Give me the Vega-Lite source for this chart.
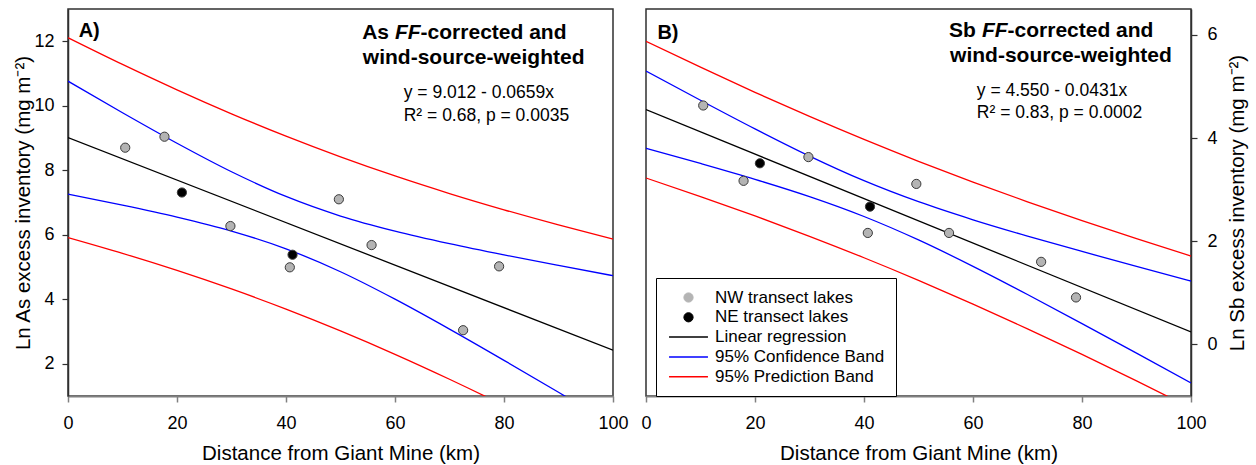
{
  "$schema": "https://vega.github.io/schema/vega-lite/v6.json",
  "padding": {"left": 13, "top": 8, "right": 0, "bottom": 0},
  "spacing": 33,
  "bounds": "flush",
  "resolve": {"scale": {"color": "independent"}, "legend": {"color": "independent"}},
  "config": {
    "font": "Liberation Sans",
    "view": {"stroke": "#303030", "strokeWidth": 1.5},
    "axis": {"grid": false, "labelFont": "Liberation Sans", "titleFont": "Liberation Sans", "labelFontSize": 18, "titleFontSize": 20.5, "titleFontWeight": "normal", "labelColor": "#000000", "titleColor": "#000000", "tickSize": 6},
    "axisX": {"domainColor": "#808080", "domainWidth": 2, "tickColor": "#808080", "tickWidth": 1.5, "labelPadding": 12, "titlePadding": 11, "labelFlush": false},
    "axisY": {"domainColor": "#303030", "domainWidth": 1.5, "tickColor": "#303030", "tickWidth": 1.2}
  },
  "datasets": {
    "asPts": [
      {"dist": 10.5, "val": 8.70, "series": "NW transect lakes"},
      {"dist": 17.7, "val": 9.04, "series": "NW transect lakes"},
      {"dist": 29.8, "val": 6.27, "series": "NW transect lakes"},
      {"dist": 40.7, "val": 4.99, "series": "NW transect lakes"},
      {"dist": 49.7, "val": 7.10, "series": "NW transect lakes"},
      {"dist": 55.7, "val": 5.68, "series": "NW transect lakes"},
      {"dist": 72.5, "val": 3.04, "series": "NW transect lakes"},
      {"dist": 79.1, "val": 5.02, "series": "NW transect lakes"},
      {"dist": 20.9, "val": 7.31, "series": "NE transect lakes"},
      {"dist": 41.2, "val": 5.38, "series": "NE transect lakes"}
    ],
    "asLines": [
      {"series": "Linear regression", "band": "fit", "dist": 0, "val": 9.012},
      {"series": "Linear regression", "band": "fit", "dist": 100, "val": 2.422},
      {"series": "95% Confidence Band", "band": "upper", "dist": 0, "val": 10.762},
      {"series": "95% Confidence Band", "band": "upper", "dist": 10, "val": 9.784},
      {"series": "95% Confidence Band", "band": "upper", "dist": 20, "val": 8.838},
      {"series": "95% Confidence Band", "band": "upper", "dist": 30, "val": 7.954},
      {"series": "95% Confidence Band", "band": "upper", "dist": 40, "val": 7.187},
      {"series": "95% Confidence Band", "band": "upper", "dist": 50, "val": 6.581},
      {"series": "95% Confidence Band", "band": "upper", "dist": 60, "val": 6.113},
      {"series": "95% Confidence Band", "band": "upper", "dist": 70, "val": 5.723},
      {"series": "95% Confidence Band", "band": "upper", "dist": 80, "val": 5.374},
      {"series": "95% Confidence Band", "band": "upper", "dist": 90, "val": 5.047},
      {"series": "95% Confidence Band", "band": "upper", "dist": 100, "val": 4.731},
      {"series": "95% Confidence Band", "band": "lower", "dist": 0, "val": 7.262},
      {"series": "95% Confidence Band", "band": "lower", "dist": 10, "val": 6.922},
      {"series": "95% Confidence Band", "band": "lower", "dist": 20, "val": 6.550},
      {"series": "95% Confidence Band", "band": "lower", "dist": 30, "val": 6.116},
      {"series": "95% Confidence Band", "band": "lower", "dist": 40, "val": 5.565},
      {"series": "95% Confidence Band", "band": "lower", "dist": 50, "val": 4.853},
      {"series": "95% Confidence Band", "band": "lower", "dist": 60, "val": 4.003},
      {"series": "95% Confidence Band", "band": "lower", "dist": 70, "val": 3.075},
      {"series": "95% Confidence Band", "band": "lower", "dist": 80, "val": 2.106},
      {"series": "95% Confidence Band", "band": "lower", "dist": 90, "val": 1.115},
      {"series": "95% Confidence Band", "band": "lower", "dist": 100, "val": 0.113},
      {"series": "95% Prediction Band", "band": "upper", "dist": 0, "val": 12.110},
      {"series": "95% Prediction Band", "band": "upper", "dist": 10, "val": 11.282},
      {"series": "95% Prediction Band", "band": "upper", "dist": 20, "val": 10.494},
      {"series": "95% Prediction Band", "band": "upper", "dist": 30, "val": 9.751},
      {"series": "95% Prediction Band", "band": "upper", "dist": 40, "val": 9.057},
      {"series": "95% Prediction Band", "band": "upper", "dist": 50, "val": 8.415},
      {"series": "95% Prediction Band", "band": "upper", "dist": 60, "val": 7.823},
      {"series": "95% Prediction Band", "band": "upper", "dist": 70, "val": 7.278},
      {"series": "95% Prediction Band", "band": "upper", "dist": 80, "val": 6.774},
      {"series": "95% Prediction Band", "band": "upper", "dist": 90, "val": 6.305},
      {"series": "95% Prediction Band", "band": "upper", "dist": 100, "val": 5.867},
      {"series": "95% Prediction Band", "band": "lower", "dist": 0, "val": 5.914},
      {"series": "95% Prediction Band", "band": "lower", "dist": 10, "val": 5.424},
      {"series": "95% Prediction Band", "band": "lower", "dist": 20, "val": 4.894},
      {"series": "95% Prediction Band", "band": "lower", "dist": 30, "val": 4.319},
      {"series": "95% Prediction Band", "band": "lower", "dist": 40, "val": 3.695},
      {"series": "95% Prediction Band", "band": "lower", "dist": 50, "val": 3.019},
      {"series": "95% Prediction Band", "band": "lower", "dist": 60, "val": 2.293},
      {"series": "95% Prediction Band", "band": "lower", "dist": 70, "val": 1.520},
      {"series": "95% Prediction Band", "band": "lower", "dist": 80, "val": 0.706},
      {"series": "95% Prediction Band", "band": "lower", "dist": 90, "val": -0.143}
    ],
    "sbPts": [
      {"dist": 10.5, "val": 4.63, "series": "NW transect lakes"},
      {"dist": 17.9, "val": 3.17, "series": "NW transect lakes"},
      {"dist": 29.8, "val": 3.63, "series": "NW transect lakes"},
      {"dist": 40.7, "val": 2.16, "series": "NW transect lakes"},
      {"dist": 49.6, "val": 3.11, "series": "NW transect lakes"},
      {"dist": 55.6, "val": 2.16, "series": "NW transect lakes"},
      {"dist": 72.5, "val": 1.60, "series": "NW transect lakes"},
      {"dist": 78.9, "val": 0.91, "series": "NW transect lakes"},
      {"dist": 20.9, "val": 3.51, "series": "NE transect lakes"},
      {"dist": 41.1, "val": 2.67, "series": "NE transect lakes"}
    ],
    "sbLines": [
      {"series": "Linear regression", "band": "fit", "dist": 0, "val": 4.550},
      {"series": "Linear regression", "band": "fit", "dist": 100, "val": 0.240},
      {"series": "95% Confidence Band", "band": "upper", "dist": 0, "val": 5.298},
      {"series": "95% Confidence Band", "band": "upper", "dist": 10, "val": 4.731},
      {"series": "95% Confidence Band", "band": "upper", "dist": 20, "val": 4.177},
      {"series": "95% Confidence Band", "band": "upper", "dist": 30, "val": 3.650},
      {"series": "95% Confidence Band", "band": "upper", "dist": 40, "val": 3.173},
      {"series": "95% Confidence Band", "band": "upper", "dist": 50, "val": 2.765},
      {"series": "95% Confidence Band", "band": "upper", "dist": 60, "val": 2.415},
      {"series": "95% Confidence Band", "band": "upper", "dist": 70, "val": 2.099},
      {"series": "95% Confidence Band", "band": "upper", "dist": 80, "val": 1.801},
      {"series": "95% Confidence Band", "band": "upper", "dist": 90, "val": 1.512},
      {"series": "95% Confidence Band", "band": "upper", "dist": 100, "val": 1.228},
      {"series": "95% Confidence Band", "band": "lower", "dist": 0, "val": 3.802},
      {"series": "95% Confidence Band", "band": "lower", "dist": 10, "val": 3.507},
      {"series": "95% Confidence Band", "band": "lower", "dist": 20, "val": 3.199},
      {"series": "95% Confidence Band", "band": "lower", "dist": 30, "val": 2.864},
      {"series": "95% Confidence Band", "band": "lower", "dist": 40, "val": 2.479},
      {"series": "95% Confidence Band", "band": "lower", "dist": 50, "val": 2.025},
      {"series": "95% Confidence Band", "band": "lower", "dist": 60, "val": 1.513},
      {"series": "95% Confidence Band", "band": "lower", "dist": 70, "val": 0.967},
      {"series": "95% Confidence Band", "band": "lower", "dist": 80, "val": 0.403},
      {"series": "95% Confidence Band", "band": "lower", "dist": 90, "val": -0.170},
      {"series": "95% Confidence Band", "band": "lower", "dist": 100, "val": -0.748},
      {"series": "95% Prediction Band", "band": "upper", "dist": 0, "val": 5.875},
      {"series": "95% Prediction Band", "band": "upper", "dist": 10, "val": 5.372},
      {"series": "95% Prediction Band", "band": "upper", "dist": 20, "val": 4.885},
      {"series": "95% Prediction Band", "band": "upper", "dist": 30, "val": 4.419},
      {"series": "95% Prediction Band", "band": "upper", "dist": 40, "val": 3.973},
      {"series": "95% Prediction Band", "band": "upper", "dist": 50, "val": 3.549},
      {"series": "95% Prediction Band", "band": "upper", "dist": 60, "val": 3.146},
      {"series": "95% Prediction Band", "band": "upper", "dist": 70, "val": 2.764},
      {"series": "95% Prediction Band", "band": "upper", "dist": 80, "val": 2.399},
      {"series": "95% Prediction Band", "band": "upper", "dist": 90, "val": 2.050},
      {"series": "95% Prediction Band", "band": "upper", "dist": 100, "val": 1.713},
      {"series": "95% Prediction Band", "band": "lower", "dist": 0, "val": 3.225},
      {"series": "95% Prediction Band", "band": "lower", "dist": 10, "val": 2.866},
      {"series": "95% Prediction Band", "band": "lower", "dist": 20, "val": 2.491},
      {"series": "95% Prediction Band", "band": "lower", "dist": 30, "val": 2.095},
      {"series": "95% Prediction Band", "band": "lower", "dist": 40, "val": 1.679},
      {"series": "95% Prediction Band", "band": "lower", "dist": 50, "val": 1.241},
      {"series": "95% Prediction Band", "band": "lower", "dist": 60, "val": 0.782},
      {"series": "95% Prediction Band", "band": "lower", "dist": 70, "val": 0.302},
      {"series": "95% Prediction Band", "band": "lower", "dist": 80, "val": -0.195},
      {"series": "95% Prediction Band", "band": "lower", "dist": 90, "val": -0.708},
      {"series": "95% Prediction Band", "band": "lower", "dist": 100, "val": -1.233}
    ]
  },
  "hconcat": [
    {
      "width": 545,
      "height": 387,
      "layer": [
        {
          "data": {"name": "asLines"},
          "mark": {"type": "line", "clip": true, "strokeWidth": 1.3, "interpolate": "monotone"},
          "encoding": {
            "x": {"field": "dist", "type": "quantitative", "scale": {"domain": [0, 100], "nice": false, "zero": false}, "axis": {"values": [0, 20, 40, 60, 80, 100], "title": "Distance from Giant Mine (km)"}},
            "y": {"field": "val", "type": "quantitative", "scale": {"domain": [1, 13], "nice": false, "zero": false}, "axis": {"values": [2, 4, 6, 8, 10, 12], "title": "Ln As excess inventory (mg m⁻²)", "labelPadding": 8, "titlePadding": 0}},
            "color": {"field": "series", "type": "nominal", "scale": {"domain": ["NW transect lakes", "NE transect lakes", "Linear regression", "95% Confidence Band", "95% Prediction Band"], "range": ["#b4b4b4", "#000000", "#000000", "#0000ff", "#ff0000"]}, "legend": null},
            "detail": {"field": "band"}
          }
        },
        {
          "data": {"name": "asPts"},
          "mark": {"type": "point", "filled": true, "size": 85, "stroke": "#3a3a3a", "strokeWidth": 1, "opacity": 1},
          "encoding": {
            "x": {"field": "dist", "type": "quantitative"},
            "y": {"field": "val", "type": "quantitative"},
            "color": {"field": "series", "type": "nominal", "legend": null}
          }
        },
        {"data": {"values": [{}]}, "mark": {"type": "text", "align": "left", "baseline": "alphabetic", "fontSize": 20, "fontWeight": "bold", "text": "A)"}, "encoding": {"x": {"datum": 1.95}, "y": {"datum": 12.13}}},
        {"data": {"values": [{}]}, "mark": {"type": "text", "align": "left", "baseline": "alphabetic", "fontSize": 21, "fontWeight": "bold", "text": "As"}, "encoding": {"x": {"datum": 53.98}, "y": {"datum": 12.06}}},
        {"data": {"values": [{}]}, "mark": {"type": "text", "align": "left", "baseline": "alphabetic", "fontSize": 21, "fontWeight": "bold", "fontStyle": "italic", "text": "FF"}, "encoding": {"x": {"datum": 59.99}, "y": {"datum": 12.06}}},
        {"data": {"values": [{}]}, "mark": {"type": "text", "align": "left", "baseline": "alphabetic", "fontSize": 21, "fontWeight": "bold", "text": "-corrected and"}, "encoding": {"x": {"datum": 64.7}, "y": {"datum": 12.06}}},
        {"data": {"values": [{}]}, "mark": {"type": "text", "align": "left", "baseline": "alphabetic", "fontSize": 21, "fontWeight": "bold", "text": "wind-source-weighted"}, "encoding": {"x": {"datum": 54.1}, "y": {"datum": 11.29}}},
        {"data": {"values": [{}]}, "mark": {"type": "text", "align": "left", "baseline": "alphabetic", "fontSize": 17.5, "text": "y = 9.012 - 0.0659x"}, "encoding": {"x": {"datum": 61.6}, "y": {"datum": 10.25}}},
        {"data": {"values": [{}]}, "mark": {"type": "text", "align": "left", "baseline": "alphabetic", "fontSize": 17.5, "text": "R² = 0.68, p = 0.0035"}, "encoding": {"x": {"datum": 61.6}, "y": {"datum": 9.53}}}
      ]
    },
    {
      "width": 545,
      "height": 387,
      "layer": [
        {
          "data": {"name": "sbLines"},
          "mark": {"type": "line", "clip": true, "strokeWidth": 1.3, "interpolate": "monotone"},
          "encoding": {
            "x": {"field": "dist", "type": "quantitative", "scale": {"domain": [0, 100], "nice": false, "zero": false}, "axis": {"values": [0, 20, 40, 60, 80, 100], "title": "Distance from Giant Mine (km)"}},
            "y": {"field": "val", "type": "quantitative", "scale": {"domain": [-1, 6.5], "nice": false, "zero": false}, "axis": {"orient": "right", "values": [0, 2, 4, 6], "title": "Ln Sb excess inventory (mg m⁻²)", "labelPadding": 10, "titlePadding": 10, "titleAngle": 270, "titleBaseline": "top"}},
            "color": {"field": "series", "type": "nominal", "scale": {"domain": ["NW transect lakes", "NE transect lakes", "Linear regression", "95% Confidence Band", "95% Prediction Band"], "range": ["#b4b4b4", "#000000", "#000000", "#0000ff", "#ff0000"]},
              "legend": {"title": null, "orient": "none", "legendX": 10, "legendY": 269, "strokeColor": "#000000", "fillColor": "#ffffff", "padding": 11, "symbolSize": 70, "symbolOffset": 13, "labelOffset": 18, "labelFontSize": 17, "labelColor": "#000000", "labelFont": "Liberation Sans", "rowPadding": 1.8, "labelLimit": 400,
                "encode": {"symbols": {"update": {
                  "shape": {"signal": "(datum.value == 'NW transect lakes' || datum.value == 'NE transect lakes') ? 'circle' : 'M-4.65,0H4.65'"},
                  "size": {"signal": "(datum.value == 'NW transect lakes' || datum.value == 'NE transect lakes') ? 85 : 70"},
                  "fill": {"signal": "datum.value == 'NW transect lakes' ? '#b4b4b4' : (datum.value == 'NE transect lakes' ? '#000000' : 'transparent')"},
                  "stroke": {"signal": "datum.value == 'NW transect lakes' ? '#3a3a3a' : (datum.value == 'NE transect lakes' ? '#000000' : (datum.value == 'Linear regression' ? '#000000' : (datum.value == '95% Confidence Band' ? '#0000ff' : '#ff7070')))"},
                  "strokeWidth": {"signal": "(datum.value == 'NW transect lakes' || datum.value == 'NE transect lakes') ? 1 : 1.5"},
                  "opacity": {"value": 1}
                }}}
              }
            },
            "detail": {"field": "band"}
          }
        },
        {
          "data": {"name": "sbPts"},
          "mark": {"type": "point", "filled": true, "size": 85, "stroke": "#3a3a3a", "strokeWidth": 1, "opacity": 1},
          "encoding": {
            "x": {"field": "dist", "type": "quantitative"},
            "y": {"field": "val", "type": "quantitative"},
            "color": {"field": "series", "type": "nominal"}
          }
        },
        {"data": {"values": [{}]}, "mark": {"type": "text", "align": "left", "baseline": "alphabetic", "fontSize": 20, "fontWeight": "bold", "text": "B)"}, "encoding": {"x": {"datum": 2.09}, "y": {"datum": 5.92}}},
        {"data": {"values": [{}]}, "mark": {"type": "text", "align": "left", "baseline": "alphabetic", "fontSize": 21, "fontWeight": "bold", "text": "Sb"}, "encoding": {"x": {"datum": 55.6}, "y": {"datum": 5.96}}},
        {"data": {"values": [{}]}, "mark": {"type": "text", "align": "left", "baseline": "alphabetic", "fontSize": 21, "fontWeight": "bold", "fontStyle": "italic", "text": "FF"}, "encoding": {"x": {"datum": 61.63}, "y": {"datum": 5.96}}},
        {"data": {"values": [{}]}, "mark": {"type": "text", "align": "left", "baseline": "alphabetic", "fontSize": 21, "fontWeight": "bold", "text": "-corrected and"}, "encoding": {"x": {"datum": 66.34}, "y": {"datum": 5.96}}},
        {"data": {"values": [{}]}, "mark": {"type": "text", "align": "left", "baseline": "alphabetic", "fontSize": 21, "fontWeight": "bold", "text": "wind-source-weighted"}, "encoding": {"x": {"datum": 55.8}, "y": {"datum": 5.47}}},
        {"data": {"values": [{}]}, "mark": {"type": "text", "align": "left", "baseline": "alphabetic", "fontSize": 17.5, "text": "y = 4.550 - 0.0431x"}, "encoding": {"x": {"datum": 60.7}, "y": {"datum": 4.81}}},
        {"data": {"values": [{}]}, "mark": {"type": "text", "align": "left", "baseline": "alphabetic", "fontSize": 17.5, "text": "R² = 0.83, p = 0.0002"}, "encoding": {"x": {"datum": 60.7}, "y": {"datum": 4.39}}}
      ]
    }
  ]
}
